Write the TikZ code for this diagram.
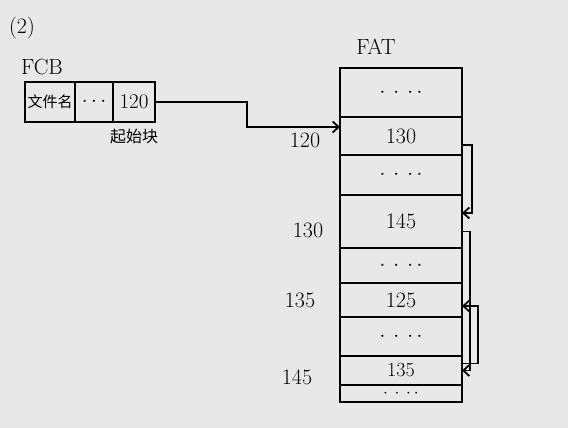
\documentclass[tikz,border=0pt]{standalone}
\usepackage{fontspec}
\newfontfamily\cjk{Noto Sans CJK SC}
\usetikzlibrary{positioning,arrows.meta}

\begin{document}
\begin{tikzpicture}[x=1pt, y=-1pt, line width=1.8pt,
		cell/.style={draw, minimum height=40pt, inner sep=0pt, outer sep=0pt, font=\fontsize{21}{23}\selectfont},
		fatrow/.style={draw, minimum width=122pt, inner sep=0pt, outer sep=0pt, font=\fontsize{22}{24}\selectfont},
		lbl/.style={font=\fontsize{22}{24}\selectfont},
		link/.style={-{Straight Barb[length=6pt, width=11pt]}, line width=1.8pt}]
		\fill[black!9] (0,0) rectangle (568,428);
		\useasboundingbox (0,0) rectangle (568,428);

		\node[lbl] (part) at (22,28) {(2)};

		% FCB
		\node[lbl] (fcblbl) at (42,67) {FCB};
		\node[cell, minimum width=50pt, anchor=north west] (fcb1) at (25,82) {\cjk\fontsize{15}{17}\selectfont 文件名};
		\node[cell, minimum width=38pt, right=0pt of fcb1] (fcb2) {$\cdots$};
		\node[cell, minimum width=42pt, right=0pt of fcb2] (fcb3) {120};
		\node[lbl, below=3pt of fcb3] (start) {\cjk\fontsize{16}{18}\selectfont 起始块};

		% FAT
		\node[lbl] (fatlbl) at (376,47) {FAT};
		\node[fatrow, minimum height=49pt, anchor=north west] (r1) at (340,68) {$\cdot\,\cdot\,\cdot\,\cdot$};
		\node[fatrow, minimum height=38pt, below=0pt of r1] (r2) {130};
		\node[fatrow, minimum height=40pt, below=0pt of r2] (r3) {$\cdot\,\cdot\,\cdot\,\cdot$};
		\node[fatrow, minimum height=53pt, below=0pt of r3] (r4) {145};
		\node[fatrow, minimum height=35pt, below=0pt of r4] (r5) {$\cdot\,\cdot\,\cdot\,\cdot$};
		\node[fatrow, minimum height=34pt, below=0pt of r5] (r6) {125};
		\node[fatrow, minimum height=39pt, below=0pt of r6] (r7) {$\cdot\,\cdot\,\cdot\,\cdot$};
		\node[fatrow, minimum height=29pt, below=0pt of r7, font=\fontsize{20}{22}\selectfont] (r8) {135};
		\node[fatrow, minimum height=17pt, below=0pt of r8, font=\fontsize{16}{16}\selectfont] (r9) {$\cdot\,\cdot\,\cdot\,\cdot$};

		\node[lbl] (n120) at (305,140) {120};
		\node[lbl] (n130) at (308,230) {130};
		\node[lbl] (n135) at (300,300) {135};
		\node[lbl] (n145) at (297,377) {145};

		% links
		\draw[link] (fcb3.east) -- ++(92,0) |- ([yshift=9pt]r2.west);
		\draw[link] ([yshift=-9pt]r2.east) -- ++(10,0) |- ([yshift=-18pt]r4.north east);
		\draw[link] ([yshift=-10pt]r4.east) -- ++(8,0) |- (r8.east);
		\draw[link] ([yshift=7pt]r8.east) -- ++(16,0) |- ([yshift=-6pt]r6.east);
	\end{tikzpicture}
\end{document}
